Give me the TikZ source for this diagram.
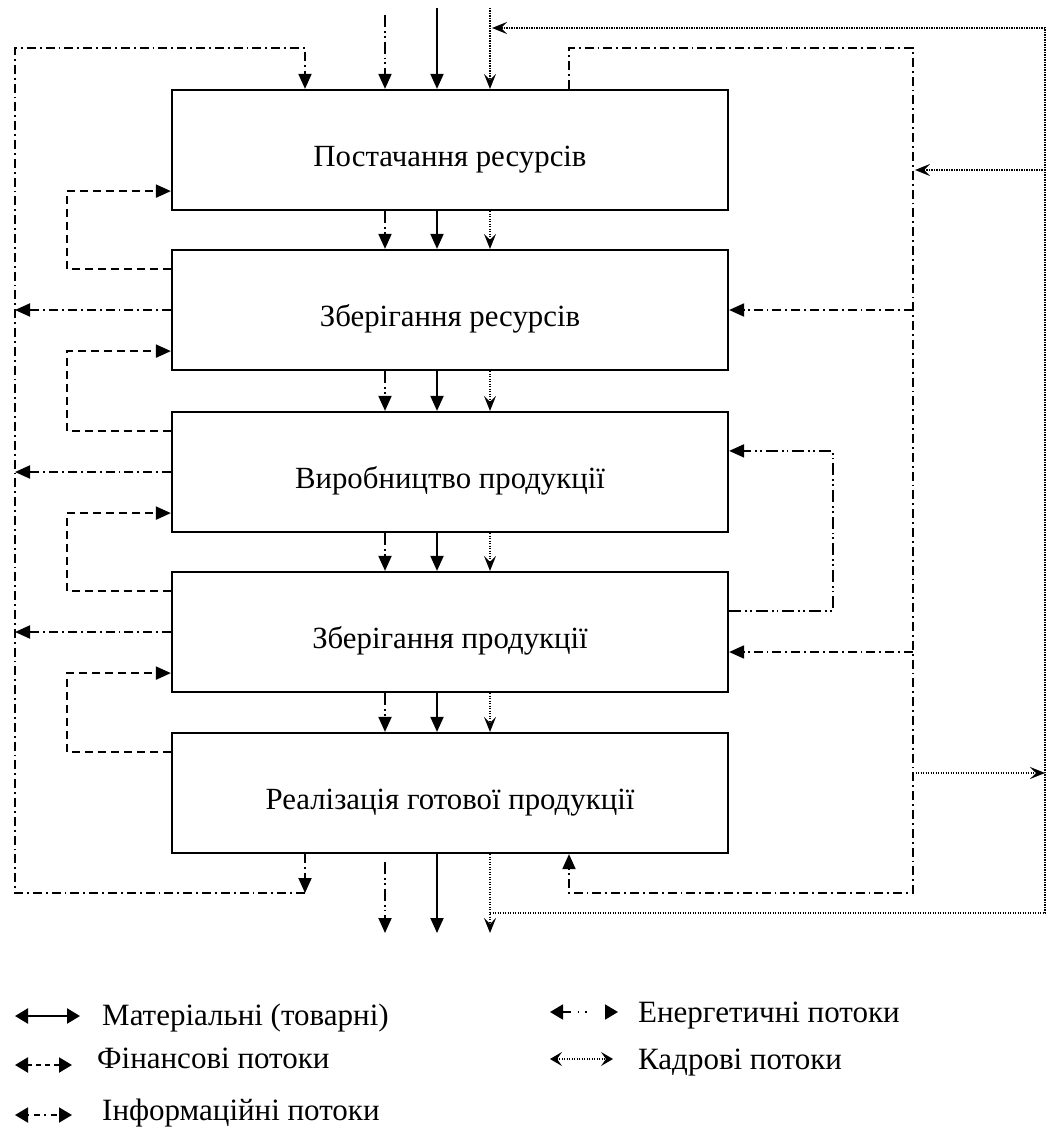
\documentclass[tikz,border=0pt]{standalone}
\usepackage{fontspec}
\setmainfont{Liberation Serif}
\usetikzlibrary{arrows.meta,calc}
\begin{document}
\begin{tikzpicture}[x=1pt,y=-1pt,
  box/.style={draw,line width=2.2pt,minimum width=556pt,minimum height=120pt,inner sep=0pt,text height=32pt,text depth=0pt,font=\fontsize{30.8}{36}\selectfont},
  ln/.style={line width=1.9pt},
  mat/.style={ln},
  fin/.style={ln,dash pattern=on 8pt off 5pt},
  info/.style={ln,dash pattern=on 9pt off 4pt on 1.8pt off 4pt},
  energy/.style={ln,dash pattern=on 12pt off 4pt on 1.8pt off 3pt on 1.8pt off 4pt},
  kad/.style={line width=1.5pt,dash pattern=on 1.2pt off 1.3pt},
  tri/.style={-{Triangle[length=15pt,width=13pt]}},
  stl/.style={-{Stealth[length=15pt,width=12pt,inset=6pt]}},
  ltri/.style={{Triangle[length=13pt,width=15pt]}-{Triangle[length=13pt,width=15pt]}},
  lstl/.style={{Stealth[length=12pt,width=14pt,inset=5pt]}-{Stealth[length=12pt,width=14pt,inset=5pt]}},
  lbl/.style={anchor=base west,inner sep=0pt,font=\fontsize{31}{36}\selectfont},
]
\useasboundingbox (0,0) rectangle (1047,1129);

% boxes
\node[box] (b1) at (450,150) {Постачання ресурсів};
\node[box] (b2) at (450,310) {Зберігання ресурсів};
\node[box] (b3) at (450,472) {Виробництво продукції};
\node[box] (b4) at (450,632) {Зберігання продукції};
\node[box] (b5) at (450,793) {Реалізація готової продукції};

% column coordinates
\coordinate (xI) at (305,0);
\coordinate (xE) at (385,0);
\coordinate (xM) at (437,0);
\coordinate (xK) at (490,0);
\coordinate (xIR) at (569,0);
\coordinate (xL) at (15,0);
\coordinate (xF) at (67,0);
\coordinate (xR) at (913,0);
\coordinate (xEL) at (833,0);
\coordinate (xD) at (1045,0);

% free ends
\coordinate (tE) at (385,15);
\coordinate (tM) at (437,8);
\coordinate (tK) at (490,8);
\coordinate (bE) at (385,933);
\coordinate (bM) at (437,933);
\coordinate (bK) at (490,933);
\coordinate (cTL) at (15,48);
\coordinate (cTI) at (305,48);
\coordinate (cBL) at (15,893);
\coordinate (cBI) at (305,893);
\coordinate (cTR) at (913,48);
\coordinate (cBR) at (913,893);
\coordinate (cDT) at (1045,28);
\coordinate (cDB) at (1045,913);
\coordinate (cKB) at (490,913);
\coordinate (cD170) at (1045,170);
\coordinate (cR773) at (913,773);
\coordinate (cD773) at (1045,773);

% top inputs
\draw[energy,tri] (tE) -- (b1.north -| xE);
\draw[mat,tri] (tM) -- (b1.north -| xM);
\draw[kad,stl] (tK) -- (b1.north -| xK);

% between boxes
\foreach \i/\j in {b1/b2,b2/b3,b3/b4,b4/b5}{
  \draw[energy,tri] (\i.south -| xE) -- (\j.north -| xE);
  \draw[mat,tri] (\i.south -| xM) -- (\j.north -| xM);
  \draw[kad,stl] (\i.south -| xK) -- (\j.north -| xK);
}

% bottom outputs
\draw[energy,tri] ($(b5.south -| xE)+(0,8)$) -- (bE);
\draw[mat,tri] (b5.south -| xM) -- (bM);
\draw[kad,stl] (b5.south -| xK) -- (bK);

% left information loop
\draw[info,tri] (b5.south -| xI) -- (cBI);
\draw[info,tri] (cBI) -- (cBL) -- (cTL) -- (cTI) -- (b1.north -| xI);
\draw[info,tri] (b2.west) -- (b2.west -| xL);
\draw[info,tri] (b3.west) -- (b3.west -| xL);
\draw[info,tri] (b4.west) -- (b4.west -| xL);

% financial loops
\foreach \i/\j in {b2/b1,b3/b2,b4/b3,b5/b4}{
  \draw[fin,tri] ($(\i.north west)+(0,20)$) coordinate (fs) -- (fs -| xF) |- ($(\j.south west)+(0,-20)$);
}

% right information loop
\draw[info,tri] (b1.north -| xIR) |- (cTR) -- (cBR) -| (b5.south -| xIR);
\draw[info,tri] (b2.east -| xR) -- (b2.east);
\draw[info,tri] ($(b4.east -| xR)+(0,20)$) -- ($(b4.east)+(0,20)$);

% energy loop
\draw[energy,tri] ($(b4.north east)+(0,40)$) coordinate (es) -- (es -| xEL) |- ($(b3.north east)+(0,40)$);

% personnel (dotted) lines
\draw[kad,stl] (cKB) -- (cDB) -- (cDT) -- ($(cDT -| xK)+(2,0)$);
\draw[kad,stl] (cD170) -- ($(cD170 -| xR)+(2,0)$);
\draw[kad,stl] (cR773) -- (cD773);

% legend
\coordinate (l1a) at (15,1016); \coordinate (l1b) at (80,1016);
\coordinate (l2a) at (15,1065); \coordinate (l2b) at (72,1065);
\coordinate (l3a) at (15,1115); \coordinate (l3b) at (72,1115);
\coordinate (r1a) at (550,1012); \coordinate (r1b) at (618,1012);
\coordinate (r2a) at (550,1059); \coordinate (r2b) at (613,1059);
\draw[mat,line width=2.4pt,ltri] (l1a) -- (l1b);
\draw[ln,line width=2.2pt,dash pattern=on 5pt off 4pt,ltri] (l2a) -- (l2b);
\draw[ln,line width=1.8pt,dash pattern=on 1.5pt off 5pt on 6pt off 4pt,ltri] (l3a) -- (l3b);
\draw[ln,line width=1.8pt,dash pattern=on 8pt off 7pt on 1.6pt off 6pt on 1.6pt off 40pt,ltri] (r1a) -- (r1b);
\draw[kad,line width=1.2pt,lstl] (r2a) -- (r2b);
\node[lbl] (t1) at (102,1025) {Матеріальні (товарні)};
\node[lbl] (t2) at (97,1068) {Фінансові потоки};
\node[lbl] (t3) at (102,1120) {Інформаційні потоки};
\node[lbl] (t4) at (638,1022) {Енергетичні потоки};
\node[lbl] (t5) at (638,1069) {Кадрові потоки};
\end{tikzpicture}
\end{document}
